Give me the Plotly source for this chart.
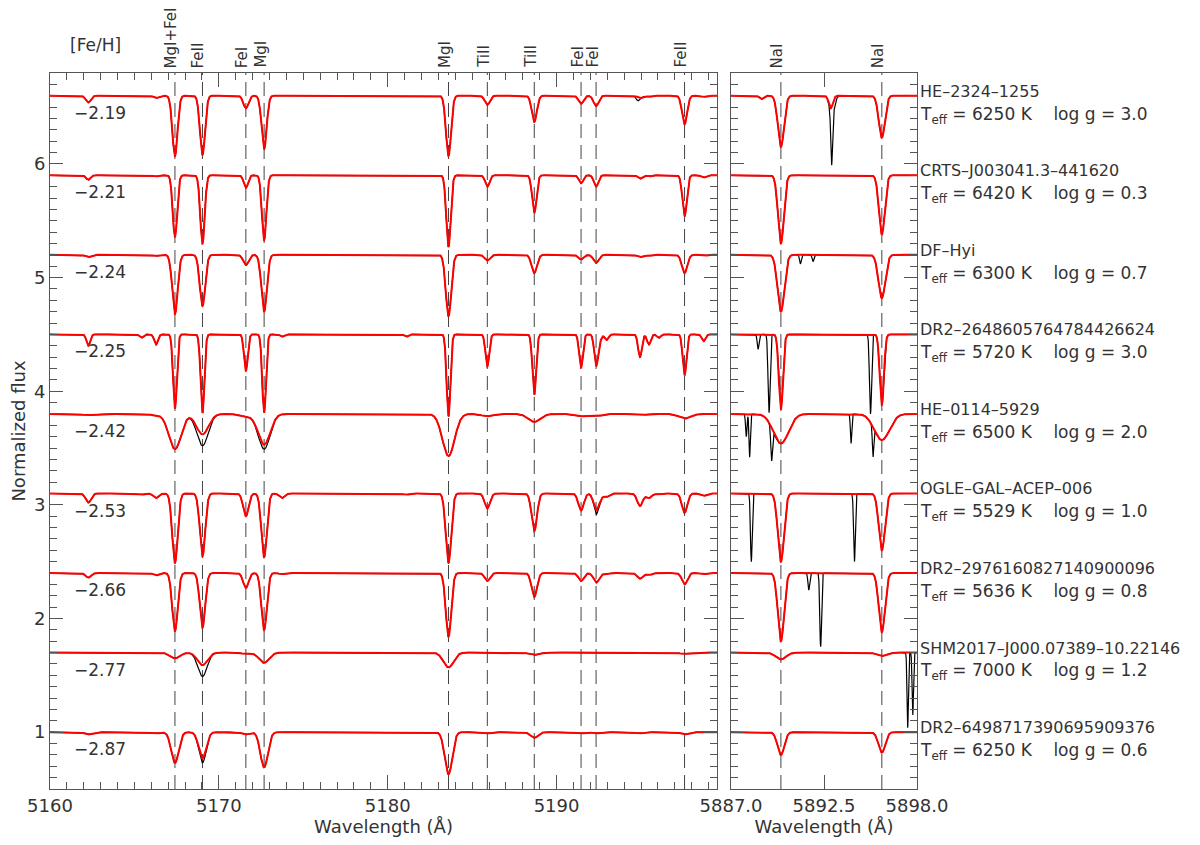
import numpy as np
import plotly.graph_objects as go

# stars, top to bottom
NAMES = ["HE–2324–1255", "CRTS–J003041.3–441620", "DF–Hyi", "DR2–2648605764784426624",
         "HE–0114–5929", "OGLE–GAL–ACEP–006", "DR2–2976160827140900096",
         "SHM2017–J000.07389–10.22146", "DR2–6498717390695909376"]
FEH = [-2.19, -2.21, -2.24, -2.25, -2.42, -2.53, -2.66, -2.77, -2.87]
TEFF = [6250, 6420, 6300, 5720, 6500, 5529, 5636, 7000, 6250]
LOGG = [3.0, 0.3, 0.7, 3.0, 2.0, 1.0, 0.8, 1.2, 0.6]
OFFSET = [6.6, 5.9, 5.2, 4.5, 3.8, 3.1, 2.4, 1.7, 1.0]
SIGMA = [0.15, 0.13, 0.16, 0.11, 0.36, 0.16, 0.16, 0.30, 0.22]  # line width (A)

# labelled lines
LINE_WL = [5167.40, 5169.03, 5171.60, 5172.68, 5183.60, 5185.90, 5188.68, 5191.45, 5192.34, 5197.58]
LINE_LABEL = ["MgI+FeI", "FeII", "FeI", "MgI", "MgI", "TiII", "TiII", "FeI", "FeI", "FeII"]
NA_WL = [5889.95, 5895.92]
NA_LABEL = ["NaI", "NaI"]

# all lines in the Mg b window and model depths per star
LEFT_WL = [5162.27, 5165.41, 5166.28, 5167.40, 5169.03, 5171.60, 5172.68, 5173.74, 5181.10,
           5183.60, 5185.90, 5188.68, 5191.45, 5192.34, 5192.55, 5192.96, 5194.94, 5195.47,
           5196.06, 5197.58, 5198.71]
MODEL_DEPTH = [
    [0.06, 0.00, 0.02, 0.53, 0.52, 0.11, 0.47, 0.00, 0.00, 0.53, 0.08, 0.23, 0.07, 0.09, 0.00, 0.00, 0.02, 0.01, 0.00, 0.25, 0.01],
    [0.04, 0.00, 0.01, 0.54, 0.60, 0.11, 0.57, 0.00, 0.00, 0.63, 0.10, 0.33, 0.07, 0.10, 0.00, 0.00, 0.03, 0.01, 0.00, 0.36, 0.02],
    [0.02, 0.00, 0.01, 0.52, 0.45, 0.09, 0.50, 0.00, 0.00, 0.54, 0.05, 0.16, 0.04, 0.07, 0.00, 0.00, 0.02, 0.01, 0.00, 0.16, 0.01],
    [0.10, 0.03, 0.09, 0.65, 0.69, 0.32, 0.69, 0.02, 0.02, 0.72, 0.28, 0.53, 0.29, 0.27, 0.05, 0.05, 0.20, 0.09, 0.03, 0.36, 0.06],
    [0.01, 0.00, 0.01, 0.31, 0.18, 0.02, 0.27, 0.00, 0.00, 0.37, 0.02, 0.07, 0.02, 0.02, 0.00, 0.00, 0.01, 0.00, 0.00, 0.04, 0.00],
    [0.08, 0.01, 0.04, 0.61, 0.55, 0.20, 0.56, 0.04, 0.01, 0.61, 0.13, 0.33, 0.15, 0.13, 0.03, 0.03, 0.11, 0.04, 0.01, 0.17, 0.02],
    [0.04, 0.00, 0.02, 0.51, 0.48, 0.13, 0.50, 0.01, 0.00, 0.56, 0.07, 0.21, 0.07, 0.08, 0.01, 0.01, 0.05, 0.02, 0.00, 0.10, 0.01],
    [0.00, 0.00, 0.00, 0.05, 0.11, 0.01, 0.09, 0.00, 0.00, 0.13, 0.00, 0.02, 0.00, 0.00, 0.00, 0.00, 0.00, 0.00, 0.00, 0.01, 0.00],
    [0.02, 0.00, 0.01, 0.27, 0.23, 0.02, 0.31, 0.00, 0.00, 0.37, 0.01, 0.05, 0.01, 0.01, 0.00, 0.00, 0.01, 0.00, 0.00, 0.02, 0.00],
]
# extra absorption seen only in the observed spectra: (wavelength, depth, width)
OBS_EXTRA_LEFT = [
    [(5194.80, 0.03, 0.10)],
    [],
    [],
    [],
    [(5169.03, 0.10, 0.30), (5172.68, 0.04, 0.30)],
    [(5192.34, 0.04, 0.10)],
    [],
    [(5169.03, 0.10, 0.25)],
    [(5169.03, 0.04, 0.20)],
]

NA_DEPTH = [[0.45, 0.37], [0.60, 0.52], [0.50, 0.38], [0.66, 0.62], [0.26, 0.23],
            [0.60, 0.50], [0.60, 0.52], [0.06, 0.03], [0.20, 0.18]]
NA_SIGMA = [0.18, 0.17, 0.20, 0.12, 0.45, 0.18, 0.18, 0.30, 0.20]
MODEL_EXTRA_NA = [[(5892.90, 0.11, 0.12), (5888.80, 0.03, 0.12)], [], [], [], [], [], [], [], []]
OBS_EXTRA_NA = [
    [(5892.95, 0.44, 0.05), (5893.05, 0.10, 0.12)],
    [],
    [(5891.10, 0.08, 0.05), (5891.85, 0.06, 0.05)],
    [(5888.60, 0.13, 0.05), (5889.25, 0.69, 0.06), (5895.25, 0.70, 0.06)],
    [(5887.90, 0.20, 0.04), (5888.10, 0.38, 0.04), (5889.40, 0.29, 0.05), (5894.10, 0.26, 0.04), (5895.40, 0.26, 0.04)],
    [(5888.20, 0.60, 0.05), (5894.30, 0.60, 0.05)],
    [(5891.60, 0.15, 0.05), (5892.30, 0.65, 0.05)],
    [(5897.45, 0.66, 0.04), (5897.75, 0.55, 0.04)],
    [],
]

INK = "#333333"
FONT = "DejaVu Sans"


def profile(wl, lines, cont):
    flux = np.full_like(wl, cont)
    for c, d, s in lines:
        flux -= d * np.exp(-0.5 * ((wl - c) / s) ** 2)
    return flux


wl_left = np.linspace(5160.0, 5199.5, 4000)
wl_right = np.linspace(5887.0, 5898.0, 1200)

fig = go.Figure()
for i, name in enumerate(NAMES):
    model_l = [(c, d, SIGMA[i]) for c, d in zip(LEFT_WL, MODEL_DEPTH[i]) if d > 0]
    model_r = [(c, d, NA_SIGMA[i]) for c, d in zip(NA_WL, NA_DEPTH[i])] + MODEL_EXTRA_NA[i]
    obs_l = model_l + OBS_EXTRA_LEFT[i]
    obs_r = model_r + OBS_EXTRA_NA[i]
    for wl, lines, xa, ya, col, w in [
        (wl_left, obs_l, "x", "y", "black", 1.2),
        (wl_right, obs_r, "x2", "y2", "black", 1.2),
        (wl_left, model_l, "x", "y", "red", 2),
        (wl_right, model_r, "x2", "y2", "red", 2),
    ]:
        fig.add_trace(go.Scatter(x=wl, y=profile(wl, lines, OFFSET[i]), mode="lines",
                                 line=dict(color=col, width=w), xaxis=xa, yaxis=ya,
                                 showlegend=False, hoverinfo="skip"))

shapes = []
for c in LINE_WL:
    shapes.append(dict(type="line", xref="x", yref="y", x0=c, x1=c, y0=0.5, y1=6.8,
                       line=dict(color="#444", width=1, dash="14px,7px"), layer="below"))
for c in NA_WL:
    shapes.append(dict(type="line", xref="x2", yref="y2", x0=c, x1=c, y0=0.5, y1=6.8,
                       line=dict(color="#444", width=1, dash="14px,7px"), layer="below"))

ann = []
for c, lab in zip(LINE_WL, LINE_LABEL):
    ann.append(dict(x=c, y=1, xref="x", yref="paper", text=lab, textangle=-90, showarrow=False,
                    xanchor="center", yanchor="bottom", xshift=-4, yshift=3,
                    font=dict(family=FONT, size=15, color=INK)))
for c, lab in zip(NA_WL, NA_LABEL):
    ann.append(dict(x=c, y=1, xref="x2", yref="paper", text=lab, textangle=-90, showarrow=False,
                    xanchor="center", yanchor="bottom", xshift=-4, yshift=3,
                    font=dict(family=FONT, size=15, color=INK)))
ann.append(dict(x=5162.7, y=1, xref="x", yref="paper", text="[Fe/H]", showarrow=False,
                xanchor="center", yanchor="middle", yshift=28,
                font=dict(family=FONT, size=17, color=INK)))
for i, name in enumerate(NAMES):
    ann.append(dict(x=5161.3, y=OFFSET[i] - 0.15, xref="x", yref="y",
                    text=f"{FEH[i]:.2f}".replace("-", "−"), showarrow=False,
                    xanchor="left", yanchor="middle", font=dict(family=FONT, size=17, color=INK)))
    ann.append(dict(x=1, y=OFFSET[i] + 0.04, xref="paper", yref="y", text=name, showarrow=False,
                    xanchor="left", yanchor="middle", xshift=1,
                    font=dict(family=FONT, size=16, color=INK)))
    txt = (f"T<sub>eff</sub> = {TEFF[i]} K\u00a0\u00a0\u00a0\u00a0log g = {LOGG[i]:.1f}")
    ann.append(dict(x=1, y=OFFSET[i] - 0.17, xref="paper", yref="y", text=txt, showarrow=False,
                    xanchor="left", yanchor="middle", xshift=1,
                    font=dict(family=FONT, size=17, color=INK)))

axis_common = dict(showline=True, linecolor="#555", linewidth=1, mirror="ticks", ticks="inside",
                   showgrid=False, zeroline=False, tickcolor="#555", automargin=False,
                   tickfont=dict(family=FONT, size=18, color=INK))

# page body adds an 8px offset, so the figure is 8px smaller and margins shifted
fig.update_layout(
    width=1192, height=837,
    margin=dict(l=42, r=283, t=65, b=56),
    paper_bgcolor="white", plot_bgcolor="white",
    shapes=shapes, annotations=ann,
    xaxis=dict(domain=[0, 0.7693], range=[5160, 5199.5], tick0=5160, dtick=10, ticklen=14,
               minor=dict(dtick=1, tick0=5160, ticks="inside", ticklen=7, tickcolor="#555"),
               title=dict(text="Wavelength (Å)", font=dict(family=FONT, size=18, color=INK), standoff=4),
               anchor="y", **axis_common),
    xaxis2=dict(domain=[0.7855, 1], range=[5887, 5898], tickvals=[5887, 5892.5, 5898],
                ticktext=["5887.0", "5892.5", "5898.0"], ticklen=14,
                title=dict(text="Wavelength (Å)", font=dict(family=FONT, size=18, color=INK), standoff=4),
                anchor="y2", **axis_common),
    yaxis=dict(range=[0.5, 6.8], tick0=0, dtick=1, ticklen=13,
               minor=dict(dtick=0.1, ticks="inside", ticklen=7, tickcolor="#555"),
               title=dict(text="Normalized flux", font=dict(family=FONT, size=18, color=INK), standoff=4),
               anchor="x", **axis_common),
    yaxis2=dict(range=[0.5, 6.8], tick0=0, dtick=1, ticklen=13, matches="y", showticklabels=False,
                minor=dict(dtick=0.1, ticks="inside", ticklen=7, tickcolor="#555"),
                anchor="x2", **axis_common),
)

fig.write_html("out.html")
